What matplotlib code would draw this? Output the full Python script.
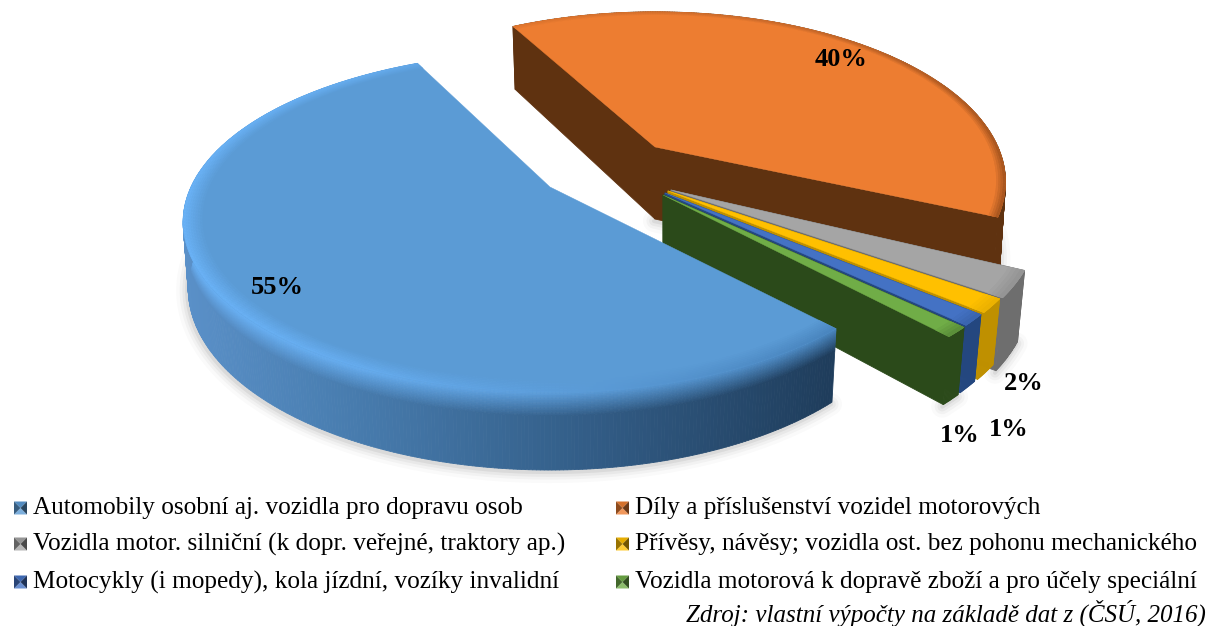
import numpy as np
import matplotlib
matplotlib.use('Agg')
import matplotlib.pyplot as plt
from matplotlib.collections import PolyCollection
from matplotlib.colors import to_rgb

# data
categories=['Automobily osobní aj. vozidla pro dopravu osob',
            'Díly a příslušenství vozidel motorových',
            'Vozidla motor. silniční (k dopr. veřejné, traktory ap.)',
            'Přívěsy, návěsy; vozidla ost. bez pohonu mechanického',
            'Motocykly (i mopedy), kola jízdní, vozíky invalidní',
            'Vozidla motorová k dopravě zboží a pro účely speciální']
values=[54.6,39.6,2.5,1.3,1.05,0.95]
pct_labels=['55%','40%','2%','1%','1%']
source='Zdroj: vlastní výpočty na základě dat z (ČSÚ, 2016)'

# styles
top_colors=['#5b9bd5','#ed7d31','#a5a5a5','#ffc000','#4472c4','#70ad47']
side_colors=['#2f5a85','#5f3210','#6e6e6e','#bf9000','#24477f','#2b4a1a']
apex=[(550,187),(655,147),(671,190),(668,191),(665,193),(663,195)]
depth=[64,72,66,60,60,60]
shrink=[0.986,0.985,0.98,0.98,0.98,0.98]
size=[359,343,359,359,359,359]
rot=[0,3.3,0,0,0,0]
pct_pos=[(277,288),(841,60),(1024,383),(1009,429),(960,436)]
T,k=163,0.206 # ellipse height and perspective
start=-47.5 # angle where first slice starts, goes clockwise

def top_pt(i,ang,r=1.0):
    a=np.radians(ang+rot[i])
    X,Y=r*np.cos(a),r*np.sin(a)
    w=1+k*Y
    return apex[i][0]+size[i]*X/w,apex[i][1]-T*Y/w

def bottom_pt(i,ang,r=1.0):
    u,v=top_pt(i,ang,r)
    Y=r*np.sin(np.radians(ang+rot[i]))
    w=1+k*Y
    return apex[i][0]+(u-apex[i][0])*shrink[i],apex[i][1]+(v-apex[i][1])*shrink[i]+depth[i]/w

def wall_pt(i,ang,f):
    p,q=np.array(top_pt(i,ang)),np.array(bottom_pt(i,ang))
    return tuple(p+(q-p)*f)

def mix(c1,c2,t):
    c1,c2=np.array(to_rgb(c1)),np.array(to_rgb(c2))
    return tuple(c1+(c2-c1)*t)

def ramp(x,xs,cols):
    rgb=np.array([to_rgb(c) for c in cols])
    return tuple(np.interp(x,xs,rgb[:,j]) for j in range(3))

def side_col(i,x):
    if i==0:
        return ramp(x,[185,330,560,830],['#5a90c8','#4a7fb2','#35618c','#1f3d5c'])
    return side_colors[i]

def bevel_col(i,x):
    if i==0:
        return ramp(x,[185,360,600,830],['#6ab2f6','#66acee','#5a9ad6','#4a86bf'])
    if i==1:
        return ramp(x,[513,800,1005],['#e0762e','#c8692a','#a8561f'])
    return mix(top_colors[i],side_colors[i],0.3)

fig=plt.figure(figsize=(12.08,6.26),dpi=100)
ax=fig.add_axes([0,0,1,1])
ax.set_xlim(0,1208)
ax.set_ylim(626,0)
ax.axis('off')

plt.rcParams['font.family']='Liberation Serif'

# slice angles
edges=start-np.cumsum([0]+values)*3.6

# soft shadow first
for i in [1,2,5,0]:
    a1,a0=edges[i],edges[i+1]
    ang=np.linspace(a0,a1,200)
    pts=np.array([bottom_pt(i,a) for a in ang])
    if i==1:
        pts=np.vstack([[bottom_pt(1,a0,0.0)],pts[:30]])
    for lw,al in [(16,0.02),(11,0.03),(7,0.04),(3,0.06)]:
        ax.plot(pts[:,0]-1,pts[:,1]+2,color='k',alpha=al,lw=lw,solid_capstyle='round',zorder=1)

# slices back to front
z=2
for i in [1,2,3,4,5,0]:
    a1,a0=edges[i],edges[i+1]
    ang=np.linspace(a1,a0,int(abs(a1-a0)*2)+8)
    polys,cols=[],[]
    # cut faces
    if i!=0:
        for a in [a0,a1]:
            polys.append([top_pt(i,a,0),top_pt(i,a),bottom_pt(i,a),bottom_pt(i,a,0)])
            cols.append(side_colors[i])
    # outer wall, on the big blue slice the upper part fades from the rim colour
    fs=np.linspace(0,0.3,15).tolist()+[1.0] if i==0 else [0,1.0]
    for n,(f1,f2) in enumerate(zip(fs[:-1],fs[1:])):
        for a,b in zip(ang[:-1],ang[1:]):
            q=[wall_pt(i,a,f1),wall_pt(i,b,f1),wall_pt(i,b,f2),wall_pt(i,a,f2)]
            polys.append(q)
            if i==0:
                cols.append(mix(bevel_col(i,q[0][0]),side_col(i,q[0][0]),min(1,n/14)))
            else:
                cols.append(side_colors[i])
    ax.add_collection(PolyCollection(polys,facecolors=cols,edgecolors=cols,linewidths=0.6,zorder=z))
    z+=1
    # top face
    top=[top_pt(i,a,0)]+[top_pt(i,x) for x in ang]
    ax.fill(*zip(*top),color=top_colors[i],lw=0.3,zorder=z)
    z+=1
    # bevel on the rim
    if i==0:
        rs=np.linspace(0.95,1.0,9)
    elif i==1:
        rs=np.linspace(0.975,1.0,5)
    else:
        rs=np.linspace(0.96,1.0,5)
    polys,cols=[],[]
    for n,(r1,r2) in enumerate(zip(rs[:-1],rs[1:])):
        t=(n+1)/(len(rs)-1)
        for a,b in zip(ang[:-1],ang[1:]):
            q=[top_pt(i,a,r1),top_pt(i,b,r1),top_pt(i,b,r2),top_pt(i,a,r2)]
            c=mix(top_colors[i],bevel_col(i,q[0][0]),t)
            polys.append(q)
            cols.append(c)
    ax.add_collection(PolyCollection(polys,facecolors=cols,edgecolors=cols,linewidths=0.3,zorder=z))
    z+=1

# percent labels
for lab,(x,y) in zip(pct_labels,pct_pos):
    ax.text(x,y,lab,fontsize=19,fontweight='bold',ha='center',va='center',color='k',zorder=50)

# legend
col_x=[14,616]
row_y=[508,544,582]
msize=13
for n,cat in enumerate(categories):
    x=col_x[n%2]
    y=row_y[n//2]
    c=top_colors[n]
    x0,x1,y0,y1=x,x+msize,y-msize/2,y+msize/2
    mid=(x+msize/2,y)
    ax.fill([x0,x1,mid[0]],[y0,y0,mid[1]],color=mix(c,'k',0.1),lw=0,zorder=60)
    ax.fill([x0,x1,mid[0]],[y1,y1,mid[1]],color=mix(c,'w',0.2),lw=0,zorder=60)
    ax.fill([x0,x0,mid[0]],[y0,y1,mid[1]],color=mix(c,'k',0.4),lw=0,zorder=60)
    ax.fill([x1,x1,mid[0]],[y0,y1,mid[1]],color=mix(c,'k',0.55),lw=0,zorder=60)
    ax.text(x1+6,y,cat,fontsize=18.15,ha='left',va='center',color='k',zorder=60)

ax.text(1206,613,source,fontsize=18,style='italic',ha='right',va='center',color='k')

plt.savefig('out.png',dpi=100)
